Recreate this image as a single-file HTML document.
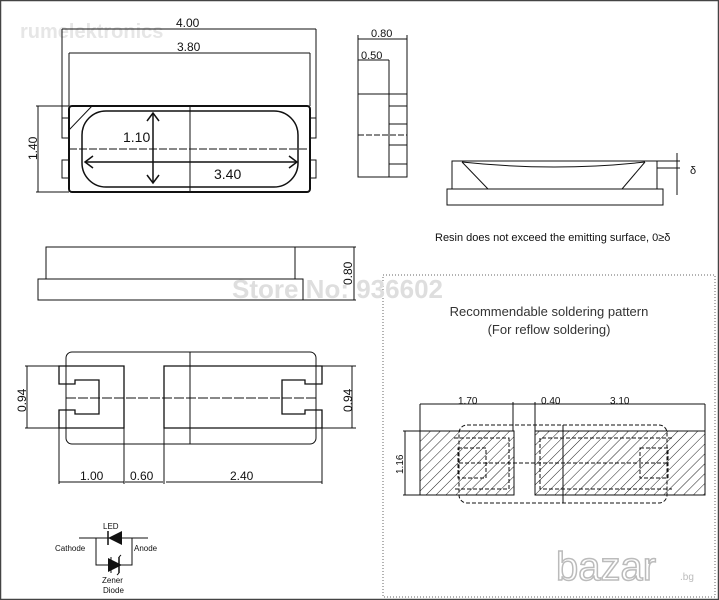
<!DOCTYPE html>
<html><head><meta charset="utf-8"><style>
html,body{margin:0;padding:0;background:#fff}
svg{display:block}
text{font-family:"Liberation Sans",sans-serif;fill:#111}
</style></head><body>
<svg width="719" height="600" viewBox="0 0 719 600" xmlns="http://www.w3.org/2000/svg">
<defs>
<pattern id="h" width="7" height="7" patternUnits="userSpaceOnUse" patternTransform="rotate(45)">
<line x1="0" y1="0" x2="0" y2="7" stroke="#222" stroke-width="1"/>
</pattern>
</defs>
<rect x="0.5" y="0.5" width="718" height="599" fill="#fff" stroke="#444" stroke-width="1.5"/>
<!-- watermark -->
<text x="20" y="38" font-size="20" font-weight="bold" style="fill:#e6e6e6">rumelektronics</text>
<g stroke="#111" fill="none" stroke-width="1">
<!-- top view -->
<line x1="62" y1="29" x2="316" y2="29"/>
<line x1="62" y1="29" x2="62" y2="138"/><line x1="316" y1="29" x2="316" y2="120"/>
<line x1="69" y1="53" x2="310" y2="53"/>
<line x1="69" y1="53" x2="69" y2="106"/><line x1="310" y1="53" x2="310" y2="106"/>
<line x1="38" y1="106" x2="38" y2="192"/><line x1="36" y1="106" x2="69" y2="106"/><line x1="36" y1="192" x2="69" y2="192"/>
<rect x="69" y="106" width="241" height="86" rx="3" stroke-width="2"/>
<line x1="69" y1="130" x2="92" y2="106"/>
<rect x="82" y="111" width="216" height="76" rx="24" stroke-width="1.5"/>
<rect x="62" y="118" width="7" height="20"/><rect x="62" y="160" width="7" height="18"/>
<rect x="310" y="118" width="6" height="20"/><rect x="310" y="160" width="6" height="18"/>
<line x1="190" y1="106" x2="190" y2="192"/>
<line x1="69" y1="149" x2="310" y2="149" stroke-dasharray="8,2"/>
<line x1="153" y1="113" x2="153" y2="183" stroke-width="1.5"/>
<polyline points="147,121 153,113 159,121" stroke-width="1.5"/><polyline points="147,175 153,183 159,175" stroke-width="1.5"/>
<line x1="85" y1="162" x2="297" y2="162" stroke-width="1.5"/>
<polyline points="93,156 85,162 93,168" stroke-width="1.5"/><polyline points="289,156 297,162 289,168" stroke-width="1.5"/>
<!-- side view -->
<rect x="46" y="247" width="249" height="32"/>
<rect x="38" y="279" width="265" height="21"/>
<line x1="295" y1="247" x2="356" y2="247"/><line x1="303" y1="300" x2="356" y2="300"/>
<line x1="354" y1="247" x2="354" y2="300"/>
<!-- bottom view -->
<rect x="66" y="352" width="250" height="92" rx="6"/>
<line x1="190" y1="352" x2="190" y2="444"/>
<line x1="66" y1="398" x2="316" y2="398" stroke-dasharray="10,2"/>
<path d="M59,366 H124 V428 H59 V410 H75 V414 H99 V380 H75 V384 H59 Z" stroke-width="1.3"/>
<path d="M164,366 H322 V384 H305 V380 H282 V414 H305 V410 H322 V428 H164 Z" stroke-width="1.3"/>
<line x1="25" y1="366" x2="59" y2="366"/><line x1="25" y1="428" x2="59" y2="428"/><line x1="27" y1="366" x2="27" y2="428"/>
<line x1="322" y1="366" x2="356" y2="366"/><line x1="322" y1="428" x2="356" y2="428"/><line x1="352" y1="366" x2="352" y2="428"/>
<line x1="59" y1="428" x2="59" y2="484"/><line x1="124" y1="428" x2="124" y2="484"/><line x1="164" y1="428" x2="164" y2="484"/><line x1="322" y1="428" x2="322" y2="484"/>
<line x1="59" y1="482" x2="124" y2="482"/><line x1="125" y1="482" x2="163" y2="482"/><line x1="166" y1="482" x2="322" y2="482"/>
<!-- circuit -->
<line x1="79" y1="538" x2="148" y2="538"/>
<polyline points="96,538 96,565 132,565 132,538"/>
<line x1="108" y1="531" x2="108" y2="545" stroke-width="1.5"/>
<line x1="111" y1="557" x2="111" y2="573"/>
<polyline points="119,557 121,555"/><polyline points="119,573 117,575"/>
<line x1="119" y1="557" x2="119" y2="573" stroke-width="1.5"/>
<!-- right side view -->
<rect x="358" y="39" width="49" height="138"/>
<line x1="358" y1="39" x2="358" y2="35"/><line x1="407" y1="39" x2="407" y2="35"/>
<line x1="358" y1="39" x2="407" y2="39"/>
<line x1="358" y1="60" x2="389" y2="60"/><line x1="389" y1="60" x2="389" y2="177"/>
<line x1="358" y1="94" x2="407" y2="94"/>
<line x1="358" y1="135" x2="407" y2="135" stroke-dasharray="6,2"/>
<rect x="389" y="106" width="18" height="18"/><rect x="389" y="145" width="18" height="19"/>
<!-- resin -->
<rect x="452" y="161" width="205" height="28"/>
<rect x="447" y="189" width="216" height="16"/>
<line x1="462" y1="162" x2="488" y2="189"/><line x1="645" y1="162" x2="622" y2="189"/>
<path d="M462,162 Q555,172 645,162"/>
<line x1="657" y1="161" x2="680" y2="161"/><line x1="657" y1="168" x2="680" y2="168"/>
<line x1="677" y1="153" x2="677" y2="195"/>
<!-- dotted box -->
<rect x="383" y="275" width="332" height="322" stroke-dasharray="1,2" stroke="#666"/>
<!-- soldering -->
<rect x="420" y="431" width="94" height="64" fill="url(#h)"/>
<rect x="535" y="431" width="170" height="64" fill="url(#h)"/>
<rect x="459" y="425" width="208" height="78" rx="8" stroke-dasharray="4,2"/>
<line x1="563" y1="425" x2="563" y2="503"/>
<line x1="459" y1="463" x2="667" y2="463" stroke-dasharray="4,2"/>
<path d="M454,438 H509 V489 H454" stroke-dasharray="4,2"/>
<rect x="458" y="448" width="28" height="30" stroke-dasharray="4,2"/>
<path d="M672,438 H540 V489 H672" stroke-dasharray="4,2"/>
<rect x="640" y="448" width="28" height="30" stroke-dasharray="4,2"/>
<line x1="420" y1="404" x2="420" y2="431"/><line x1="513" y1="402" x2="513" y2="431"/><line x1="535" y1="402" x2="535" y2="431"/><line x1="705" y1="404" x2="705" y2="431"/>
<line x1="420" y1="404" x2="513" y2="404"/><line x1="513" y1="404" x2="535" y2="404"/><line x1="535" y1="404" x2="705" y2="404"/>
<line x1="403" y1="431" x2="420" y2="431"/><line x1="403" y1="495" x2="420" y2="495"/><line x1="405" y1="431" x2="405" y2="495"/>
</g>
<polygon points="108,538 122,531 122,545" fill="#111"/>
<polygon points="122,565 108,558 108,572" fill="#111"/>
<g font-size="12">
<text x="176" y="27">4.00</text>
<text x="177" y="51">3.80</text>
<text x="123" y="142" font-size="14">1.10</text>
<text x="214" y="179" font-size="14">3.40</text>
<text transform="translate(37,160) rotate(-90)">1.40</text>
<text transform="translate(352,285) rotate(-90)">0.80</text>
<text transform="translate(26,412) rotate(-90)">0.94</text>
<text transform="translate(352,412) rotate(-90)">0.94</text>
<text x="80" y="480">1.00</text>
<text x="130" y="480">0.60</text>
<text x="230" y="480">2.40</text>
<text x="371" y="37" font-size="11">0.80</text>
<text x="361" y="59" font-size="11">0.50</text>
<text x="690" y="174" font-size="11">δ</text>
<text x="435" y="241" font-size="11">Resin does not exceed the emitting surface, 0≥δ</text>
<text x="458" y="404" font-size="10">1.70</text>
<text x="541" y="404" font-size="10">0.40</text>
<text x="610" y="404" font-size="10">3.10</text>
<text transform="translate(403,474) rotate(-90)" font-size="10">1.16</text>
<text x="549" y="316" font-size="13" text-anchor="middle" style="fill:#333">Recommendable soldering pattern</text>
<text x="549" y="334" font-size="13" text-anchor="middle" style="fill:#333">(For reflow soldering)</text>
</g>
<g font-size="8" font-family="DejaVu Sans Mono">
<text x="103" y="529">LED</text>
<text x="55" y="551">Cathode</text>
<text x="134" y="551">Anode</text>
<text x="102" y="583">Zener</text>
<text x="103" y="593">Diode</text>
</g>
<text x="232" y="298" font-size="26" font-weight="bold" style="fill:#dedede">Store No: 936602</text>
<text x="556" y="580" font-size="40" style="fill:#fff;stroke:#bbb;stroke-width:1.5">bazar</text>
<text x="680" y="580" font-size="10" style="fill:#bbb">.bg</text>
</svg>
</body></html>
